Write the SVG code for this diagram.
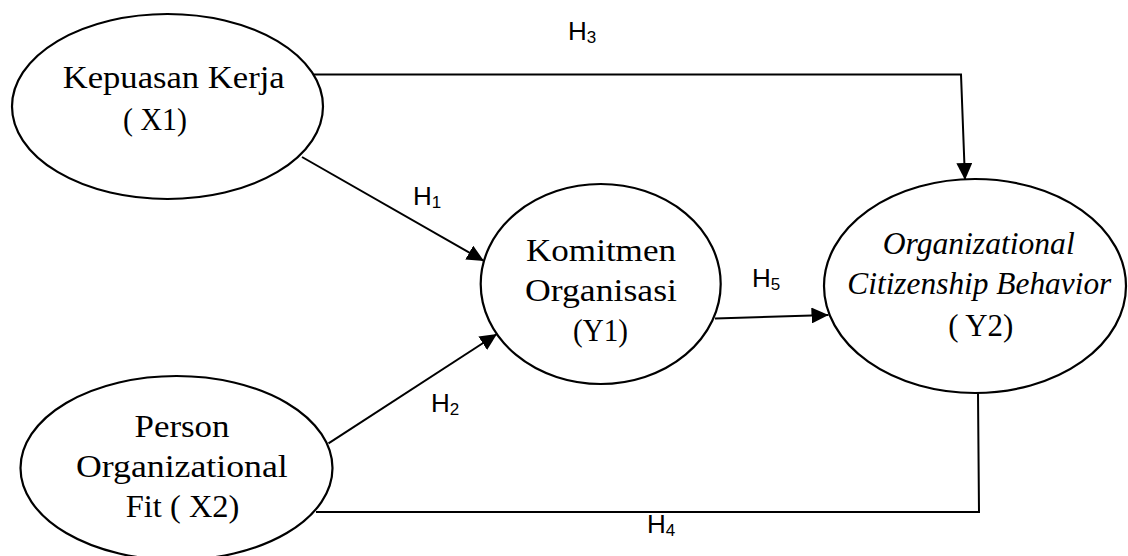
<svg xmlns="http://www.w3.org/2000/svg" width="1128" height="556" viewBox="0 0 1128 556">
  <style>
    .node { fill: #ffffff; stroke: #000000; stroke-width: 2.2; }
    .conn { fill: none; stroke: #000000; stroke-width: 2; }
    .lbl { font-family: "Liberation Serif", "Times New Roman", serif; font-size: 32px; fill: #000000; }
    .it { font-style: italic; }
    .h { font-family: "Liberation Sans", Arial, sans-serif; font-size: 26px; fill: #000000; }
    .sub { font-size: 17px; }
  </style>
  <defs>
    <marker id="arrow" markerUnits="userSpaceOnUse" markerWidth="17" markerHeight="16" refX="17" refY="8" orient="auto">
      <path d="M0,0 L17,8 L0,16 Z" fill="#000000"/>
    </marker>
  </defs>
  <rect x="0" y="0" width="1128" height="556" fill="#ffffff"/>

  <g id="connectors">
    <polyline id="c-h3" class="conn" points="313,74.5 961,74.5 965,180" marker-end="url(#arrow)"/>
    <line id="c-h1" class="conn" x1="302" y1="157" x2="484" y2="261" marker-end="url(#arrow)"/>
    <line id="c-h2" class="conn" x1="328.5" y1="443.3" x2="497" y2="334" marker-end="url(#arrow)"/>
    <line id="c-h5" class="conn" x1="715" y1="318.5" x2="828.5" y2="315" marker-end="url(#arrow)"/>
    <polyline id="c-h4" class="conn" points="316,512 979,512 978,393"/>
  </g>

  <g id="edge-labels">
    <text class="h" x="568" y="40">H<tspan class="sub" dy="3">3</tspan></text>
    <text class="h" x="413" y="205">H<tspan class="sub" dy="3">1</tspan></text>
    <text class="h" x="431" y="412">H<tspan class="sub" dy="3">2</tspan></text>
    <text class="h" x="752" y="287">H<tspan class="sub" dy="3">5</tspan></text>
    <text class="h" x="647" y="533">H<tspan class="sub" dy="3">4</tspan></text>
  </g>

  <g id="node-x1">
    <ellipse class="node" cx="167.5" cy="106.5" rx="155.5" ry="92.5"/>
    <text class="lbl" x="62.7" y="87.5" textLength="222" lengthAdjust="spacingAndGlyphs">Kepuasan Kerja</text>
    <text class="lbl" x="123" y="130" textLength="64" lengthAdjust="spacingAndGlyphs">( X1)</text>
  </g>

  <g id="node-x2">
    <ellipse class="node" cx="176.5" cy="468" rx="156" ry="92"/>
    <text class="lbl" x="134.5" y="437" textLength="95" lengthAdjust="spacingAndGlyphs">Person</text>
    <text class="lbl" x="76" y="477" textLength="211.7" lengthAdjust="spacingAndGlyphs">Organizational</text>
    <text class="lbl" x="125.8" y="517" textLength="113.6" lengthAdjust="spacingAndGlyphs">Fit ( X2)</text>
  </g>

  <g id="node-y1">
    <ellipse class="node" cx="600.7" cy="284" rx="120" ry="100"/>
    <text class="lbl" x="526" y="260.5" textLength="150" lengthAdjust="spacingAndGlyphs">Komitmen</text>
    <text class="lbl" x="525" y="300.5" textLength="152" lengthAdjust="spacingAndGlyphs">Organisasi</text>
    <text class="lbl" x="573" y="341" textLength="55" lengthAdjust="spacingAndGlyphs">(Y1)</text>
  </g>

  <g id="node-y2">
    <ellipse class="node" cx="975" cy="286" rx="151" ry="107"/>
    <text class="lbl it" x="882.7" y="254" textLength="192" lengthAdjust="spacingAndGlyphs">Organizational</text>
    <text class="lbl it" x="847.3" y="294" textLength="264" lengthAdjust="spacingAndGlyphs">Citizenship Behavior</text>
    <text class="lbl" x="948.3" y="336" textLength="65" lengthAdjust="spacingAndGlyphs">( Y2)</text>
  </g>
</svg>
